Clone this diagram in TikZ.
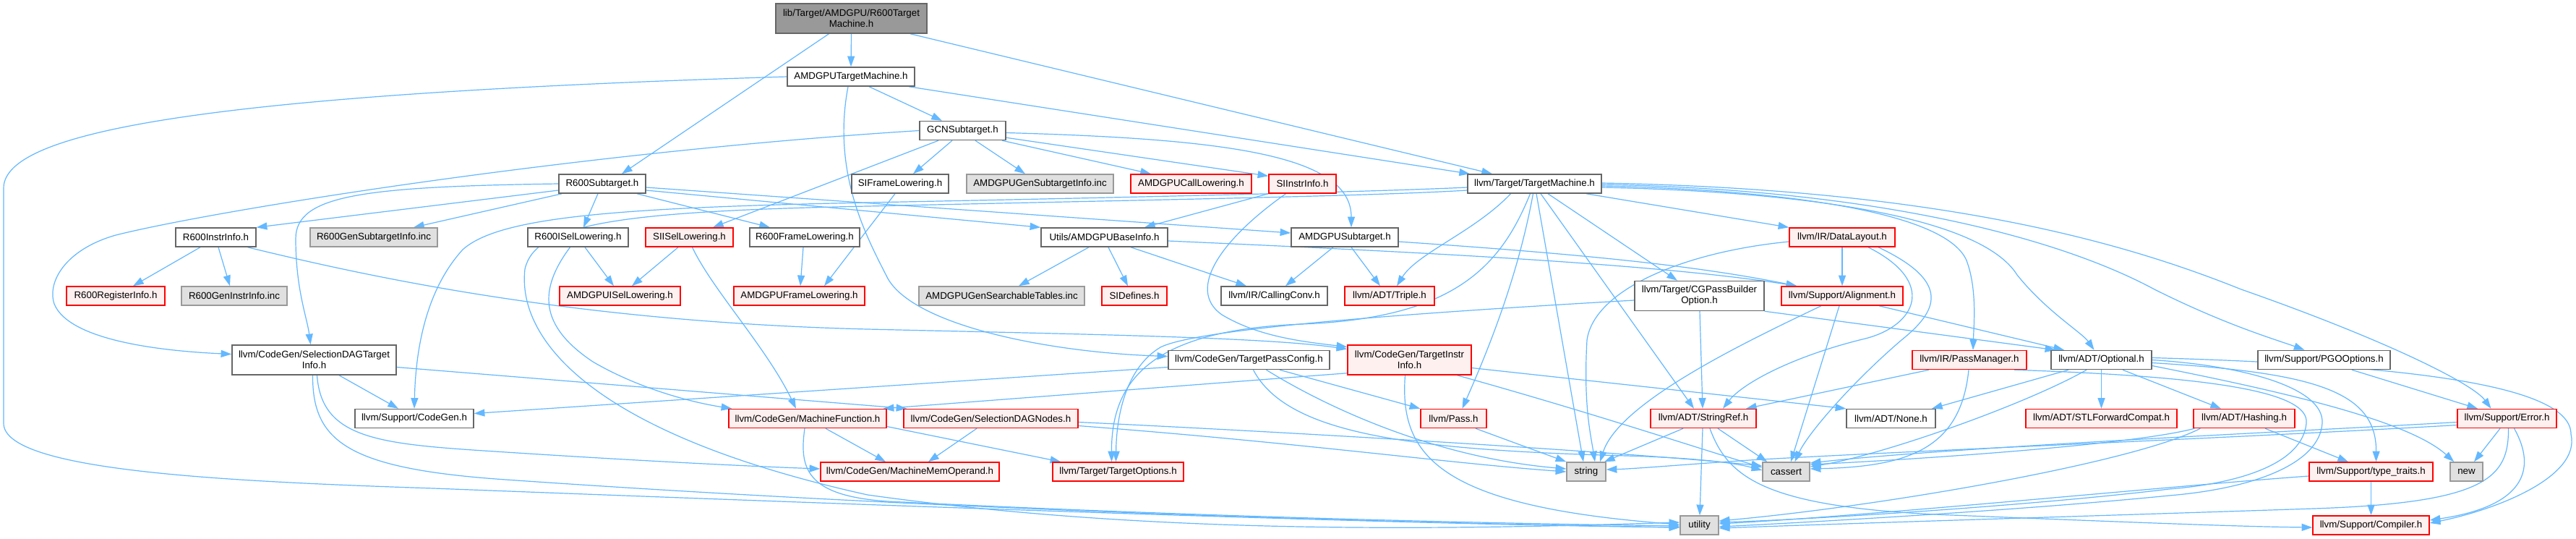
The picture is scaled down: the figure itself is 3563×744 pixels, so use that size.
\documentclass[tikz,border=0pt]{standalone}
\usepackage{fontspec}
\setmainfont{Liberation Sans}
\usetikzlibrary{arrows.meta}
\definecolor{edgec}{HTML}{63B8FF}
\definecolor{bordn}{HTML}{666666}
\definecolor{bordg}{HTML}{999999}
\definecolor{fillg}{HTML}{E0E0E0}
\definecolor{fillt}{HTML}{999999}
\definecolor{bordr}{HTML}{FF0000}
\definecolor{fillr}{HTML}{FFF0F0}
\pgfdeclarelayer{bgl}
\pgfdeclarelayer{edges}
\pgfsetlayers{bgl,edges,main}
\newcommand\NB[7]{\node[#1,minimum width={(#4-#3)*0.75pt},minimum height={#6*0.75pt}] (#2) at ({(#3+#4)/2},#5) {#7};}
\newcommand\EG[4]{\draw[e] ([shift={(#2,0)}]#1.south) -- ([shift={(#4,0)}]#3.north);}
\begin{document}
\begin{tikzpicture}[x=0.75pt,y=-0.75pt,
  e/.style={draw=edgec,line width=0.9pt,-{Triangle[length=11pt,width=7.5pt]}},
  nb/.style={rectangle,inner sep=0pt,line width=1.1pt,align=center,font=\fontsize{10}{11.3}\selectfont,text=black},
  nw/.style={nb,draw=bordn,fill=white},
  nr/.style={nb,draw=bordr,fill=fillr},
  ng/.style={nb,draw=bordg,fill=fillg},
  ntop/.style={nb,draw=bordn,fill=fillt}]
\begin{pgfonlayer}{bgl}
\fill[white] (0,0) rectangle (3563,744);
\end{pgfonlayer}
\useasboundingbox (0,0) rectangle (3563,744);
% nodes
\NB{ntop}{top}{1073}{1282}{25.5}{41}{lib/Target/AMDGPU/R600Target\\Machine.h}
\NB{nw}{amdtm}{1089}{1265}{106}{26}{AMDGPUTargetMachine.h}
\NB{nw}{gcn}{1272}{1391}{180.5}{26}{GCNSubtarget.h}
\NB{nw}{r600st}{773}{893}{254}{26}{R600Subtarget.h}
\NB{nw}{sifl}{1178}{1312}{254}{26}{SIFrameLowering.h}
\NB{ng}{gensti}{1337}{1540}{254}{26}{AMDGPUGenSubtargetInfo.inc}
\NB{nr}{calllow}{1564}{1731}{254}{26}{AMDGPUCallLowering.h}
\NB{nr}{siinstr}{1755}{1848}{254}{26}{SIInstrInfo.h}
\NB{nw}{tm}{2030}{2215}{254}{26}{llvm/Target/TargetMachine.h}
\NB{nw}{r600instr}{243}{354}{328}{26}{R600InstrInfo.h}
\NB{ng}{r600gensti}{429}{605}{328}{26}{R600GenSubtargetInfo.inc}
\NB{nw}{r600isel}{730}{869}{328}{26}{R600ISelLowering.h}
\NB{nr}{siisel}{893}{1014}{328}{26}{SIISelLowering.h}
\NB{nw}{r600fl}{1037}{1189}{328}{26}{R600FrameLowering.h}
\NB{nw}{baseinfo}{1440}{1615}{328}{26}{Utils/AMDGPUBaseInfo.h}
\NB{nw}{amdst}{1786}{1934}{328}{26}{AMDGPUSubtarget.h}
\NB{nr}{datalayout}{2475}{2621}{328}{26}{llvm/IR/DataLayout.h}
\NB{nr}{r600reg}{92}{228}{409}{26}{R600RegisterInfo.h}
\NB{ng}{r600geninstr}{251}{397}{409}{26}{R600GenInstrInfo.inc}
\NB{nr}{amdisel}{774}{941}{409}{26}{AMDGPUISelLowering.h}
\NB{nr}{amdfl}{1015}{1196}{409}{26}{AMDGPUFrameLowering.h}
\NB{ng}{searchable}{1271}{1500}{409}{26}{AMDGPUGenSearchableTables.inc}
\NB{nr}{sidefines}{1524}{1614}{409}{26}{SIDefines.h}
\NB{nw}{callingconv}{1689}{1836}{409}{26}{llvm/IR/CallingConv.h}
\NB{nr}{triple}{1860}{1984}{409}{26}{llvm/ADT/Triple.h}
\NB{nw}{cgpb}{2261}{2440}{409}{41}{llvm/Target/CGPassBuilder\\Option.h}
\NB{nr}{alignment}{2464}{2632}{409}{26}{llvm/Support/Alignment.h}
\NB{nw}{sdti}{321}{548}{497.5}{41}{llvm/CodeGen/SelectionDAGTarget\\Info.h}
\NB{nw}{tpc}{1616}{1839}{497.5}{26}{llvm/CodeGen/TargetPassConfig.h}
\NB{nr}{tii}{1864}{2035}{497.5}{41}{llvm/CodeGen/TargetInstr\\Info.h}
\NB{nr}{passmgr}{2645}{2803}{497.5}{26}{llvm/IR/PassManager.h}
\NB{nw}{optional}{2837}{2976}{497.5}{26}{llvm/ADT/Optional.h}
\NB{nw}{pgo}{3123}{3306}{497.5}{26}{llvm/Support/PGOOptions.h}
\NB{nw}{codegen}{491}{655}{578.5}{26}{llvm/Support/CodeGen.h}
\NB{nr}{mf}{1008}{1226}{578.5}{26}{llvm/CodeGen/MachineFunction.h}
\NB{nr}{sdnodes}{1250}{1491}{578.5}{26}{llvm/CodeGen/SelectionDAGNodes.h}
\NB{nr}{pass}{1965}{2056}{578.5}{26}{llvm/Pass.h}
\NB{nr}{stringref}{2283}{2429}{578.5}{26}{llvm/ADT/StringRef.h}
\NB{nw}{none}{2554}{2677}{578.5}{26}{llvm/ADT/None.h}
\NB{nr}{stlfc}{2802}{3011}{578.5}{26}{llvm/ADT/STLForwardCompat.h}
\NB{nr}{hashing}{3034}{3174}{578.5}{26}{llvm/ADT/Hashing.h}
\NB{nr}{error}{3399}{3536}{578.5}{26}{llvm/Support/Error.h}
\NB{nr}{mmo}{1135}{1382}{652}{26}{llvm/CodeGen/MachineMemOperand.h}
\NB{nr}{topts}{1456}{1637}{652}{26}{llvm/Target/TargetOptions.h}
\NB{ng}{string}{2167}{2221}{652}{26}{string}
\NB{ng}{cassert}{2438}{2503}{652}{26}{cassert}
\NB{nr}{typetraits}{3194}{3365}{652}{26}{llvm/Support/type\_traits.h}
\NB{ng}{new}{3389}{3434}{652}{26}{new}
\NB{ng}{utility}{2324}{2377}{726}{26}{utility}
\NB{nr}{compiler}{3199}{3360}{726}{26}{llvm/Support/Compiler.h}
\begin{pgfonlayer}{edges}
% top
\EG{top}{0}{amdtm}{0}
\EG{top}{-31}{r600st}{27}
\EG{top}{81.5}{tm}{-58.5}
% AMDGPUTargetMachine
\EG{amdtm}{25}{gcn}{-28.5}
\EG{amdtm}{80}{tm}{-89.5}
\draw[e] (amdtm.west) .. controls (300,130) and (5,180) .. (5,260) -- (5,585) .. controls (5,650) and (300,665) .. (600,675) .. controls (1200,698) and (1900,724) .. ([shift={(0,3)}]utility.west);
\draw[e] ([shift={(-4,0)}]amdtm.south) .. controls (1150,240) and (1200,330) .. (1228,385) .. controls (1265,450) and (1450,487) .. ([shift={(0,-5)}]tpc.west);
% GCNSubtarget
\draw[e] (gcn.west) .. controls (800,210) and (300,290) .. (160,325) .. controls (90,345) and (65,390) .. (75,420) .. controls (95,470) and (220,485) .. ([shift={(0,-8)}]sdti.west);
\EG{gcn}{-14.5}{sifl}{18}
\EG{gcn}{17.5}{gensti}{-20.5}
\EG{gcn}{54.5}{calllow}{-55.5}
\draw[e] ([shift={(0,-4)}]gcn.south east) -- ([shift={(0,3)}]siinstr.north west);
\draw[e] ([shift={(0,3)}]gcn.east) .. controls (1700,192) and (1869,215) .. ([shift={(9,0)}]amdst.north);
\EG{gcn}{-33.5}{siisel}{32.5}
% R600Subtarget
\draw[e] ([shift={(0,9)}]r600st.west) -- (r600instr.north east);
\draw[e] ([shift={(5,0)}]r600st.south west) -- ([shift={(55,0)}]r600gensti.north);
\draw[e] (r600st.west) .. controls (500,258) and (409,270) .. (409,330) .. controls (409,400) and (425,440) .. ([shift={(-5,0)}]sdti.north);
\EG{r600st}{-6}{r600isel}{7.5}
\EG{r600st}{48}{r600fl}{-48}
\draw[e] ([shift={(0,9)}]r600st.east) -- (baseinfo.north west);
\draw[e] ([shift={(0,5)}]r600st.east) -- ([shift={(0,-6)}]amdst.west);
% R600InstrInfo
\EG{r600instr}{-21.5}{r600reg}{24}
\EG{r600instr}{3.5}{r600geninstr}{-6}
\draw[e] ([shift={(44,0)}]r600instr.south) .. controls (520,385) and (800,445) .. (1200,455) .. controls (1500,462) and (1750,466) .. ([shift={(0,-15)}]tii.west);
% ISel / FrameLowering
\EG{r600isel}{9.5}{amdisel}{-8.5}
\draw[e] ([shift={(-11,0)}]r600isel.south) .. controls (745,400) and (745,450) .. (820,500) .. controls (880,535) and (950,555) .. ([shift={(5,0)}]mf.north west);
\EG{siisel}{-15.5}{amdisel}{16.5}
\draw[e] ([shift={(4,0)}]siisel.south) .. controls (985,400) and (1060,480) .. ([shift={(-16,0)}]mf.north);
\EG{r600fl}{-2}{amdfl}{1.5}
\EG{sifl}{-7}{amdfl}{34.5}
% SIInstrInfo
\draw[e] (siinstr.south west) -- ([shift={(55.5,0)}]baseinfo.north);
\draw[e] ([shift={(-23,0)}]siinstr.south) .. controls (1690,330) and (1640,400) .. (1690,435) .. controls (1740,465) and (1800,472) .. ([shift={(0,-18)}]tii.west);
% AMDGPUBaseInfo
\EG{baseinfo}{-21.5}{searchable}{23.5}
\EG{baseinfo}{5.5}{sidefines}{-9}
\EG{baseinfo}{36.5}{callingconv}{-38.5}
\draw[e] ([shift={(0,5)}]baseinfo.east) .. controls (2000,350) and (2300,366) .. ([shift={(22,0)}]alignment.north west);
% AMDGPUSubtarget
\EG{amdst}{-16}{callingconv}{15.5}
\EG{amdst}{9}{triple}{-13}
\draw[e] ([shift={(0,6)}]amdst.east) .. controls (2200,352) and (2350,368) .. ([shift={(22,0)}]alignment.north west);
% TargetMachine
\draw[e] ([shift={(-33,0)}]tm.south) .. controls (2040,320) and (1960,350) .. ([shift={(10,0)}]triple.north);
\draw[e] ([shift={(-6,0)}]tm.south) .. controls (2075,370) and (2010,440) .. (1800,448) .. controls (1600,456) and (1537,520) .. ([shift={(-9,0)}]topts.north);
\draw[e] ([shift={(-2,0)}]tm.south) .. controls (2100,380) and (2060,480) .. ([shift={(12,0)}]pass.north);
\EG{tm}{2.5}{string}{-4}
\EG{tm}{8.5}{stringref}{-13}
\EG{tm}{18.5}{cgpb}{-30.5}
\draw[e] ([shift={(71.5,0)}]tm.south) -- (datalayout.north west);
\draw[e] ([shift={(0,3)}]tm.east) .. controls (2450,262) and (2690,290) .. (2720,360) .. controls (2735,400) and (2730,450) .. ([shift={(5,0)}]passmgr.north);
\draw[e] ([shift={(0,5)}]tm.east) .. controls (2500,265) and (2740,300) .. (2790,380) .. controls (2830,430) and (2880,460) .. ([shift={(-10,0)}]optional.north);
\draw[e] ([shift={(0,1)}]tm.east) .. controls (2600,262) and (2850,330) .. (2980,400) .. controls (3080,450) and (3150,470) .. ([shift={(-27,0)}]pgo.north);
\draw[e] ([shift={(0,-1)}]tm.east) .. controls (2700,262) and (2950,340) .. (3100,400) .. controls (3300,470) and (3420,530) .. ([shift={(-22,0)}]error.north);
\draw[e] ([shift={(0,5)}]tm.west) .. controls (1900,265) and (1600,272) .. (1200,280) .. controls (850,287) and (690,300) .. (640,345) .. controls (590,400) and (575,480) .. (codegen.north);
\draw[e] ([shift={(0,9)}]tm.west) .. controls (1900,271) and (1600,276) .. (1200,285) .. controls (850,292) and (740,310) .. (726,372) .. controls (715,470) and (820,600) .. (1200,684) .. controls (1600,740) and (2000,732) .. ([shift={(0,-4)}]utility.west);
% CGPassBuilderOption
\EG{cgpb}{0.5}{stringref}{-1}
\draw[e] (cgpb.south east) -- ([shift={(7,0)}]optional.north west);
\draw[e] ([shift={(0,6)}]cgpb.west) .. controls (2000,430) and (1660,452) .. (1605,480) .. controls (1555,510) and (1544,580) .. ([shift={(-3,0)}]topts.north);
% DataLayout
\EG{datalayout}{0}{alignment}{0}
\draw[e] ([shift={(36,0)}]datalayout.south) .. controls (2680,390) and (2650,450) .. (2580,468) .. controls (2480,492) and (2410,530) .. ([shift={(27,0)}]stringref.north);
\draw[e] ([shift={(50,0)}]datalayout.south) .. controls (2700,390) and (2680,430) .. (2630,470) .. controls (2560,530) and (2500,600) .. ([shift={(12,0)}]cassert.north);
\draw[e] ([shift={(0,6)}]datalayout.west) .. controls (2330,348) and (2205,400) .. (2195,470) .. controls (2190,560) and (2200,600) .. ([shift={(12,0)}]string.north);
% Alignment
\EG{alignment}{51}{optional}{-51.5}
\EG{alignment}{-4}{cassert}{6.5}
\draw[e] ([shift={(-29,0)}]alignment.south) .. controls (2420,470) and (2240,555) .. ([shift={(19,0)}]string.north);
% PassManager
\draw[e] ([shift={(-56,0)}]passmgr.south) -- ([shift={(59,0)}]stringref.north);
\draw[e] ([shift={(-1,0)}]passmgr.south) .. controls (2712,620) and (2640,645) .. ([shift={(0,-4)}]cassert.east);
\draw[e] ([shift={(62,0)}]passmgr.south) .. controls (3050,520) and (3195,540) .. (3190,585) .. controls (3185,640) and (3100,668) .. (3000,676) .. controls (2800,700) and (2500,718) .. ([shift={(0,-4)}]utility.east);
% Optional
\EG{optional}{-45.5}{none}{56.5}
\EG{optional}{0}{stlfc}{0}
\EG{optional}{29.5}{hashing}{-32}
\draw[e] ([shift={(0,4)}]optional.east) .. controls (3200,515) and (3287,540) .. ([shift={(7,0)}]typetraits.north);
\draw[e] ([shift={(0,8)}]optional.east) .. controls (3150,540) and (3330,580) .. ([shift={(6,0)}]new.north west);
\draw[e] ([shift={(0,-3)}]optional.east) .. controls (3350,505) and (3556,535) .. (3556,600) .. controls (3570,660) and (3450,705) .. ([shift={(0,-3)}]compiler.east);
\draw[e] ([shift={(-20.5,0)}]optional.south) .. controls (2800,560) and (2600,630) .. ([shift={(0,-7)}]cassert.east);
\draw[e] (optional.east) .. controls (3100,505) and (3215,535) .. (3212,585) .. controls (3208,640) and (3120,675) .. (3000,685) .. controls (2800,705) and (2500,722) .. ([shift={(0,2)}]utility.east);
% StringRef
\EG{stringref}{-28}{string}{25}
\EG{stringref}{-1}{utility}{0.5}
\draw[e] ([shift={(20,0)}]stringref.south) -- ([shift={(7,0)}]cassert.north west);
\draw[e] ([shift={(9,0)}]stringref.south) .. controls (2390,660) and (2440,702) .. (2700,712) .. controls (2950,722) and (3100,728) .. ([shift={(0,3)}]compiler.west);
% Pass
\draw[e] ([shift={(30.5,0)}]pass.south) -- (string.north west);
% TargetPassConfig
\draw[e] ([shift={(0,10)}]tpc.west) -- ([shift={(0,-7)}]codegen.east);
\draw[e] ([shift={(42.5,0)}]tpc.south) -- (pass.north west);
\draw[e] ([shift={(24,0)}]tpc.south) .. controls (1830,560) and (1980,632) .. ([shift={(0,-4)}]string.west);
\draw[e] ([shift={(6,0)}]tpc.south) .. controls (1780,600) and (1950,622) .. (2250,630) .. controls (2350,633) and (2400,640) .. ([shift={(0,-2)}]cassert.west);
% TargetInstrInfo
\draw[e] ([shift={(0,-3)}]tii.south west) -- ([shift={(-5,0)}]mf.north east);
\draw[e] ([shift={(-6,0)}]tii.south) .. controls (1935,630) and (1990,700) .. ([shift={(0,-1)}]utility.west);
\draw[e] ([shift={(66,0)}]tii.south) .. controls (2200,570) and (2350,620) .. ([shift={(0,-6)}]cassert.west);
\draw[e] ([shift={(0,11)}]tii.east) -- (none.north west);
% SelectionDAGTargetInfo
\EG{sdti}{34.5}{codegen}{-22}
\draw[e] ([shift={(0,10)}]sdti.east) -- ([shift={(5,0)}]sdnodes.north west);
\draw[e] ([shift={(-2,0)}]sdti.south) .. controls (432,610) and (480,648) .. (700,663) .. controls (1300,705) and (1900,722) .. ([shift={(0,3)}]utility.west);
\draw[e] ([shift={(4,0)}]sdti.south) .. controls (445,610) and (530,614) .. (700,625) .. controls (900,638) and (1050,645) .. ([shift={(0,-4)}]mmo.west);
% SelectionDAGNodes
\EG{sdnodes}{-19.5}{mmo}{25.5}
\draw[e] ([shift={(0,5)}]sdnodes.east) .. controls (1800,598) and (2250,625) .. ([shift={(0,-8)}]cassert.west);
\draw[e] ([shift={(0,10)}]sdnodes.east) .. controls (1800,612) and (2000,640) .. (string.west);
% MachineFunction
\EG{mf}{25}{mmo}{-33.5}
\draw[e] ([shift={(0,11)}]mf.east) -- ([shift={(12,0)}]topts.north west);
\draw[e] ([shift={(-4,0)}]mf.south) .. controls (1105,650) and (1115,690) .. (1250,694) .. controls (1700,716) and (2100,724) .. ([shift={(0,1)}]utility.west);
% Hashing
\EG{hashing}{29}{typetraits}{-31.5}
\draw[e] ([shift={(2,0)}]hashing.south west) .. controls (2950,615) and (2650,635) .. ([shift={(0,-10)}]cassert.east);
\draw[e] ([shift={(10,0)}]hashing.south west) .. controls (2950,640) and (2600,700) .. ([shift={(0,-6)}]utility.east);
% Error
\EG{error}{-9.5}{new}{10.5}
\draw[e] ([shift={(10,0)}]error.south) .. controls (3510,650) and (3490,700) .. ([shift={(0,-7)}]compiler.east);
\draw[e] ([shift={(2,0)}]error.south) .. controls (3470,660) and (3440,695) .. (3200,703) .. controls (2900,713) and (2600,722) .. ([shift={(0,4)}]utility.east);
\draw[e] ([shift={(0,5)}]error.west) .. controls (3200,595) and (2700,618) .. ([shift={(0,-12)}]cassert.east);
\draw[e] ([shift={(0,9)}]error.west) .. controls (3100,605) and (2600,625) .. (2420,636) .. controls (2330,642) and (2260,648) .. ([shift={(0,-3)}]string.east);
% type_traits, PGOOptions
\EG{typetraits}{0}{compiler}{0}
\draw[e] ([shift={(0,6)}]typetraits.west) .. controls (3000,672) and (2600,712) .. ([shift={(0,-2)}]utility.east);
\EG{pgo}{38.5}{error}{-40.5}
\end{pgfonlayer}
\end{tikzpicture}
\end{document}
